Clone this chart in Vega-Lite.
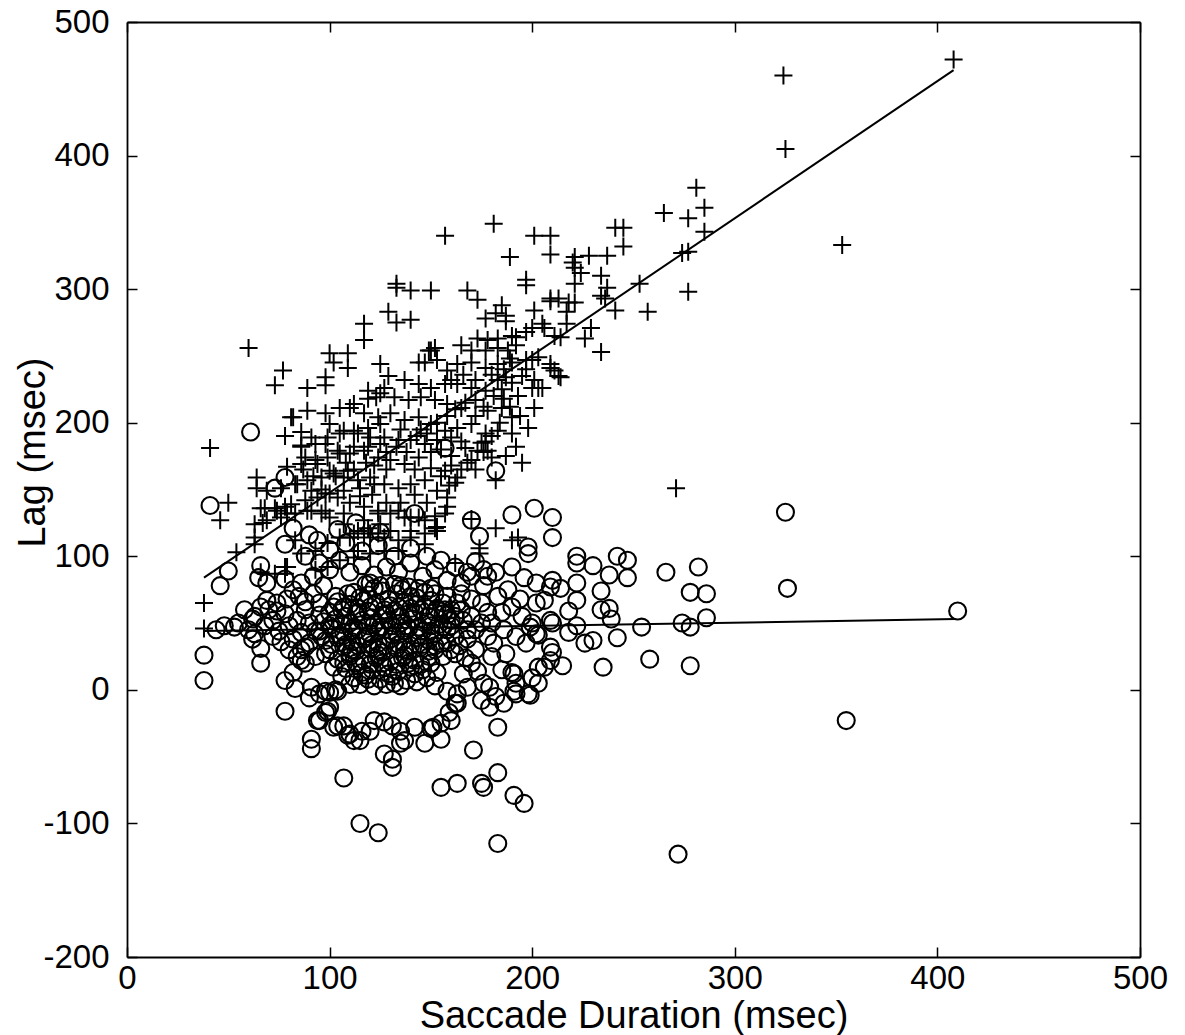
{
  "$schema": "https://vega.github.io/schema/vega-lite/v6.json",
  "width": 1013,
  "height": 935,
  "autosize": "none",
  "padding": {"left": 127, "top": 22, "right": 45, "bottom": 78},
  "background": "white",
  "config": {
    "view": {"stroke": null},
    "axis": {
      "grid": false,
      "domainColor": "black",
      "domainWidth": 1.8,
      "tickColor": "black",
      "tickWidth": 1.5,
      "tickSize": -10,
      "labelFont": "Liberation Sans",
      "labelFontSize": 33,
      "labelColor": "black",
      "labelOverlap": false,
      "labelFlush": false,
      "labelBound": false,
      "labelExpr": "'' + datum.value",
      "titleFont": "Liberation Sans",
      "titleFontSize": 38,
      "titleFontWeight": "normal",
      "titleColor": "black"
    }
  },
  "datasets": {
    "plus": [
      {"dur":408,"lag":472},{"dur":324,"lag":460},{"dur":325,"lag":405},{"dur":281,"lag":376},{"dur":285,"lag":361},{"dur":277,"lag":353},{"dur":285,"lag":343},{"dur":265,"lag":357},{"dur":353,"lag":333},{"dur":274,"lag":327},{"dur":277,"lag":328},{"dur":253,"lag":304},{"dur":277,"lag":298},{"dur":257,"lag":283},{"dur":241,"lag":284},{"dur":181,"lag":349},{"dur":201,"lag":340},{"dur":209,"lag":340},{"dur":189,"lag":324},{"dur":209,"lag":326},{"dur":241,"lag":346},{"dur":245,"lag":346},{"dur":245,"lag":332},{"dur":221,"lag":324},{"dur":228,"lag":325},{"dur":237,"lag":325},{"dur":197,"lag":307},{"dur":197,"lag":303},{"dur":221,"lag":316},{"dur":224,"lag":312},{"dur":234,"lag":310},{"dur":221,"lag":304},{"dur":237,"lag":301},{"dur":234,"lag":295},{"dur":209,"lag":293},{"dur":213,"lag":293},{"dur":218,"lag":290},{"dur":221,"lag":290},{"dur":236,"lag":293},{"dur":185,"lag":288},{"dur":187,"lag":280},{"dur":201,"lag":284},{"dur":217,"lag":283},{"dur":217,"lag":274},{"dur":229,"lag":271},{"dur":206,"lag":271},{"dur":226,"lag":263},{"dur":234,"lag":253},{"dur":211,"lag":265},{"dur":214,"lag":264},{"dur":190,"lag":265},{"dur":192,"lag":264},{"dur":197,"lag":247},{"dur":200,"lag":247},{"dur":189,"lag":248},{"dur":209,"lag":241},{"dur":213,"lag":235},{"dur":201,"lag":232},{"dur":200,"lag":226},{"dur":203,"lag":226},{"dur":205,"lag":226},{"dur":193,"lag":220},{"dur":201,"lag":211},{"dur":190,"lag":204},{"dur":190,"lag":192},{"dur":198,"lag":196},{"dur":186,"lag":218},{"dur":177,"lag":192},{"dur":178,"lag":179},{"dur":182,"lag":157},{"dur":271,"lag":151},{"dur":157,"lag":340},{"dur":220,"lag":320},{"dur":133,"lag":304},{"dur":133,"lag":301},{"dur":140,"lag":299},{"dur":150,"lag":299},{"dur":168,"lag":299},{"dur":173,"lag":292},{"dur":129,"lag":283},{"dur":133,"lag":275},{"dur":140,"lag":277},{"dur":117,"lag":274},{"dur":117,"lag":262},{"dur":60,"lag":256},{"dur":100,"lag":252},{"dur":109,"lag":252},{"dur":109,"lag":241},{"dur":102,"lag":245},{"dur":125,"lag":244},{"dur":129,"lag":235},{"dur":149,"lag":254},{"dur":152,"lag":256},{"dur":144,"lag":245},{"dur":77,"lag":239},{"dur":73,"lag":228},{"dur":98,"lag":234},{"dur":98,"lag":228},{"dur":89,"lag":226},{"dur":211,"lag":239},{"dur":214,"lag":234},{"dur":82,"lag":204},{"dur":89,"lag":209},{"dur":98,"lag":207},{"dur":41,"lag":181},{"dur":64,"lag":159},{"dur":64,"lag":151},{"dur":50,"lag":140},{"dur":46,"lag":127},{"dur":159,"lag":153},{"dur":209,"lag":291},{"dur":176,"lag":178},{"dur":162,"lag":155},{"dur":158,"lag":144},{"dur":158,"lag":137},{"dur":152,"lag":130},{"dur":152,"lag":121},{"dur":182,"lag":121},{"dur":193,"lag":114},{"dur":190,"lag":112},{"dur":170,"lag":128},{"dur":81,"lag":204},{"dur":78,"lag":190},{"dur":86,"lag":193},{"dur":86,"lag":183},{"dur":54,"lag":103},{"dur":63,"lag":114},{"dur":63,"lag":109},{"dur":38,"lag":65},{"dur":38,"lag":46},{"dur":67,"lag":125},{"dur":66,"lag":88},{"dur":78,"lag":87},{"dur":73,"lag":136},{"dur":78,"lag":137},
      {"dur":177,"lag":278},{"dur":182,"lag":282},{"dur":187,"lag":276},{"dur":173,"lag":263},{"dur":178,"lag":262},{"dur":183,"lag":263},{"dur":192,"lag":258},{"dur":197,"lag":268},{"dur":200,"lag":271},{"dur":205,"lag":274},{"dur":165,"lag":258},{"dur":170,"lag":254},{"dur":177,"lag":254},{"dur":183,"lag":256},{"dur":188,"lag":254},{"dur":150,"lag":254},{"dur":153,"lag":247},{"dur":147,"lag":245},{"dur":158,"lag":239},{"dur":163,"lag":244},{"dur":170,"lag":245},{"dur":177,"lag":241},{"dur":183,"lag":244},{"dur":190,"lag":245},{"dur":197,"lag":240},{"dur":203,"lag":249},{"dur":209,"lag":244},{"dur":137,"lag":232},{"dur":144,"lag":229},{"dur":150,"lag":226},{"dur":157,"lag":229},{"dur":163,"lag":229},{"dur":170,"lag":226},{"dur":177,"lag":224},{"dur":183,"lag":232},{"dur":187,"lag":234},{"dur":119,"lag":224},{"dur":125,"lag":222},{"dur":132,"lag":219},{"dur":139,"lag":217},{"dur":145,"lag":219},{"dur":152,"lag":217},{"dur":158,"lag":214},{"dur":165,"lag":211},{"dur":172,"lag":217},{"dur":178,"lag":209},{"dur":185,"lag":211},{"dur":110,"lag":211},{"dur":117,"lag":207},{"dur":124,"lag":204},{"dur":130,"lag":207},{"dur":137,"lag":202},{"dur":144,"lag":204},{"dur":150,"lag":199},{"dur":157,"lag":194},{"dur":163,"lag":196},{"dur":170,"lag":199},{"dur":177,"lag":186},{"dur":183,"lag":194},{"dur":100,"lag":199},{"dur":107,"lag":194},{"dur":114,"lag":192},{"dur":120,"lag":189},{"dur":127,"lag":189},{"dur":134,"lag":187},{"dur":140,"lag":187},{"dur":147,"lag":184},{"dur":153,"lag":187},{"dur":160,"lag":189},{"dur":167,"lag":181},{"dur":173,"lag":179},{"dur":180,"lag":174},{"dur":91,"lag":189},{"dur":98,"lag":184},{"dur":104,"lag":179},{"dur":110,"lag":177},{"dur":117,"lag":179},{"dur":124,"lag":174},{"dur":130,"lag":172},{"dur":137,"lag":169},{"dur":144,"lag":174},{"dur":150,"lag":166},{"dur":157,"lag":164},{"dur":163,"lag":159},{"dur":88,"lag":174},{"dur":94,"lag":169},{"dur":100,"lag":164},{"dur":107,"lag":159},{"dur":114,"lag":157},{"dur":120,"lag":159},{"dur":127,"lag":154},{"dur":134,"lag":151},{"dur":140,"lag":154},{"dur":147,"lag":157},{"dur":153,"lag":149},{"dur":84,"lag":154},{"dur":91,"lag":149},{"dur":98,"lag":147},{"dur":104,"lag":144},{"dur":110,"lag":140},{"dur":117,"lag":137},{"dur":124,"lag":134},{"dur":130,"lag":132},{"dur":137,"lag":129},{"dur":144,"lag":129},{"dur":100,"lag":129},{"dur":107,"lag":124},{"dur":114,"lag":119},{"dur":120,"lag":117},{"dur":127,"lag":114},{"dur":134,"lag":112},{"dur":140,"lag":114},{"dur":147,"lag":109},
      {"dur":105,"lag":211},{"dur":112,"lag":214},{"dur":119,"lag":218},{"dur":123,"lag":219},{"dur":127,"lag":226},{"dur":86,"lag":182},{"dur":93,"lag":184},{"dur":99,"lag":189},{"dur":105,"lag":192},{"dur":112,"lag":194},{"dur":119,"lag":196},{"dur":125,"lag":199},{"dur":79,"lag":167},{"dur":86,"lag":169},{"dur":93,"lag":172},{"dur":99,"lag":174},{"dur":105,"lag":177},{"dur":112,"lag":182},{"dur":119,"lag":182},{"dur":125,"lag":184},{"dur":69,"lag":149},{"dur":76,"lag":151},{"dur":83,"lag":154},{"dur":89,"lag":157},{"dur":96,"lag":159},{"dur":102,"lag":162},{"dur":109,"lag":164},{"dur":68,"lag":136},{"dur":74,"lag":134},{"dur":81,"lag":139},{"dur":88,"lag":142},{"dur":94,"lag":144},{"dur":100,"lag":147},{"dur":107,"lag":149},{"dur":115,"lag":151},{"dur":122,"lag":154},{"dur":63,"lag":124},{"dur":69,"lag":127},{"dur":76,"lag":129},{"dur":83,"lag":132},{"dur":89,"lag":134},{"dur":96,"lag":132},{"dur":83,"lag":112},{"dur":86,"lag":102},{"dur":93,"lag":104},{"dur":99,"lag":110},{"dur":105,"lag":114},{"dur":112,"lag":117},{"dur":119,"lag":121},{"dur":125,"lag":124},{"dur":73,"lag":87},{"dur":79,"lag":92},{"dur":93,"lag":90},{"dur":99,"lag":92},{"dur":105,"lag":97},{"dur":112,"lag":99},
      {"dur":66,"lag":136},{"dur":79,"lag":132},{"dur":91,"lag":134},{"dur":98,"lag":134},{"dur":107,"lag":132},{"dur":117,"lag":127},{"dur":124,"lag":132},{"dur":134,"lag":134},{"dur":140,"lag":129},{"dur":147,"lag":127},{"dur":153,"lag":122},{"dur":157,"lag":132},{"dur":110,"lag":114},{"dur":117,"lag":114},{"dur":124,"lag":117},{"dur":130,"lag":119},{"dur":140,"lag":119},{"dur":147,"lag":117},{"dur":153,"lag":119},{"dur":114,"lag":104},{"dur":120,"lag":102},{"dur":127,"lag":104},{"dur":134,"lag":104},{"dur":162,"lag":95},{"dur":174,"lag":106},{"dur":174,"lag":102},{"dur":78,"lag":92},
      {"dur":155,"lag":180},{"dur":160,"lag":175},{"dur":165,"lag":186},{"dur":168,"lag":170},{"dur":172,"lag":165},{"dur":145,"lag":195},{"dur":135,"lag":195},{"dur":128,"lag":178},{"dur":142,"lag":165},{"dur":150,"lag":178},{"dur":160,"lag":232},{"dur":166,"lag":236},{"dur":172,"lag":232},{"dur":180,"lag":236},{"dur":186,"lag":240},{"dur":187,"lag":175},{"dur":192,"lag":182},{"dur":195,"lag":170},
      {"dur":122,"lag":168},{"dur":128,"lag":165},{"dur":133,"lag":182},{"dur":138,"lag":178},{"dur":143,"lag":190},{"dur":148,"lag":192},{"dur":153,"lag":200},{"dur":158,"lag":205},{"dur":162,"lag":210},{"dur":167,"lag":215},{"dur":172,"lag":205},{"dur":176,"lag":212},{"dur":181,"lag":220},{"dur":185,"lag":225},{"dur":190,"lag":230},{"dur":195,"lag":235},{"dur":118,"lag":170},{"dur":112,"lag":165},{"dur":108,"lag":170},{"dur":103,"lag":160},{"dur":96,"lag":150},{"dur":92,"lag":160},{"dur":87,"lag":165},{"dur":115,"lag":145},{"dur":121,"lag":146},{"dur":128,"lag":140},{"dur":135,"lag":140},{"dur":142,"lag":146},{"dur":148,"lag":140},{"dur":155,"lag":160},{"dur":160,"lag":168},{"dur":165,"lag":165},{"dur":170,"lag":172},{"dur":175,"lag":185},{"dur":180,"lag":190},{"dur":184,"lag":200},{"dur":189,"lag":212},{"dur":194,"lag":205}
    ],
    "ring": [
      {"dur":410,"lag":59},{"dur":325,"lag":133},{"dur":326,"lag":76},{"dur":355,"lag":-23},{"dur":272,"lag":-123},{"dur":183,"lag":-115},{"dur":155,"lag":-73},{"dur":163,"lag":-70},{"dur":175,"lag":-70},{"dur":176,"lag":-73},{"dur":183,"lag":-62},{"dur":191,"lag":-79},{"dur":196,"lag":-85},{"dur":171,"lag":-45},{"dur":183,"lag":-28},{"dur":179,"lag":-13},{"dur":191,"lag":-1},{"dur":199,"lag":-4},{"dur":203,"lag":5},{"dur":191,"lag":12},{"dur":210,"lag":28},{"dur":215,"lag":18},{"dur":206,"lag":17},{"dur":235,"lag":17},{"dur":258,"lag":23},{"dur":278,"lag":18},{"dur":242,"lag":39},{"dur":226,"lag":35},{"dur":230,"lag":37},{"dur":254,"lag":47},{"dur":274,"lag":50},{"dur":278,"lag":47},{"dur":286,"lag":54},{"dur":278,"lag":73},{"dur":286,"lag":72},{"dur":266,"lag":88},{"dur":282,"lag":92},{"dur":242,"lag":100},{"dur":247,"lag":97},{"dur":247,"lag":84},{"dur":238,"lag":86},{"dur":234,"lag":74},{"dur":234,"lag":60},{"dur":238,"lag":61},{"dur":239,"lag":53},{"dur":230,"lag":93},{"dur":222,"lag":100},{"dur":222,"lag":95},{"dur":222,"lag":80},{"dur":222,"lag":67},{"dur":218,"lag":59},{"dur":201,"lag":136},{"dur":210,"lag":129},{"dur":210,"lag":114},{"dur":190,"lag":131},{"dur":198,"lag":107},{"dur":198,"lag":102},{"dur":174,"lag":115},{"dur":170,"lag":127},{"dur":142,"lag":132},{"dur":210,"lag":82},{"dur":214,"lag":76},{"dur":202,"lag":80},{"dur":210,"lag":50},{"dur":199,"lag":47},{"dur":202,"lag":42},{"dur":218,"lag":43},{"dur":222,"lag":48},
      {"dur":41,"lag":138},{"dur":50,"lag":89},{"dur":46,"lag":78},{"dur":38,"lag":26},{"dur":38,"lag":7},{"dur":53,"lag":47},{"dur":62,"lag":53},{"dur":63,"lag":42},{"dur":66,"lag":31},{"dur":66,"lag":20},{"dur":69,"lag":67},{"dur":74,"lag":59},{"dur":65,"lag":84},{"dur":69,"lag":80},{"dur":66,"lag":93},{"dur":78,"lag":83},{"dur":78,"lag":-16},{"dur":91,"lag":-37},{"dur":91,"lag":-44},{"dur":107,"lag":-66},{"dur":127,"lag":-48},{"dur":131,"lag":-52},{"dur":131,"lag":-58},{"dur":82,"lag":13},{"dur":78,"lag":7},{"dur":83,"lag":1},{"dur":94,"lag":-23},{"dur":99,"lag":-16},{"dur":104,"lag":-27},{"dur":112,"lag":-38},{"dur":115,"lag":-38},{"dur":110,"lag":-33},{"dur":122,"lag":-23},{"dur":120,"lag":-31},{"dur":135,"lag":-31},{"dur":137,"lag":-38},{"dur":135,"lag":-40},{"dur":147,"lag":-40},{"dur":155,"lag":-37},{"dur":151,"lag":-28},{"dur":160,"lag":-23},{"dur":163,"lag":-10},{"dur":115,"lag":-100},{"dur":124,"lag":-107},{"dur":61,"lag":193},{"dur":78,"lag":159},{"dur":73,"lag":151},{"dur":82,"lag":121},{"dur":90,"lag":116},{"dur":78,"lag":109},{"dur":125,"lag":118},{"dur":182,"lag":164},{"dur":157,"lag":181},
      {"dur":90,"lag":-6},{"dur":95,"lag":-3},{"dur":100,"lag":-2},{"dur":103,"lag":0},{"dur":95,"lag":-23},{"dur":102,"lag":-28},{"dur":107,"lag":-27},{"dur":109,"lag":-34},{"dur":116,"lag":-31},{"dur":127,"lag":-24},{"dur":131,"lag":-27},{"dur":142,"lag":-28},{"dur":150,"lag":-29},{"dur":155,"lag":-25},{"dur":159,"lag":-17},
      {"dur":202,"lag":65},{"dur":206,"lag":67},{"dur":209,"lag":77},{"dur":200,"lag":50},{"dur":203,"lag":41},{"dur":209,"lag":52},{"dur":187,"lag":27},{"dur":190,"lag":13},{"dur":192,"lag":5},{"dur":198,"lag":-3},{"dur":192,"lag":-3},{"dur":200,"lag":9},{"dur":203,"lag":17},{"dur":209,"lag":22},{"dur":209,"lag":32},{"dur":179,"lag":2},{"dur":176,"lag":5},{"dur":162,"lag":-10},{"dur":158,"lag":-1},{"dur":163,"lag":-3},{"dur":173,"lag":14},{"dur":170,"lag":20},{"dur":167,"lag":24},{"dur":162,"lag":27},{"dur":91,"lag":2},{"dur":98,"lag":-1},{"dur":104,"lag":-1},{"dur":100,"lag":-13},{"dur":98,"lag":-17},{"dur":88,"lag":32},{"dur":86,"lag":22},
      {"dur":165,"lag":60},{"dur":170,"lag":55},{"dur":175,"lag":65},{"dur":180,"lag":50},{"dur":185,"lag":58},{"dur":190,"lag":62},{"dur":195,"lag":55},{"dur":172,"lag":45},{"dur":178,"lag":40},{"dur":168,"lag":38},{"dur":183,"lag":70},{"dur":176,"lag":78},{"dur":188,"lag":75},{"dur":194,"lag":68},{"dur":165,"lag":72},{"dur":170,"lag":85},{"dur":182,"lag":88},{"dur":190,"lag":92},{"dur":196,"lag":84},{"dur":160,"lag":48},{"dur":157,"lag":60},{"dur":162,"lag":40},{"dur":186,"lag":45},{"dur":192,"lag":40},{"dur":197,"lag":35},{"dur":172,"lag":30},{"dur":180,"lag":25},{"dur":185,"lag":15},{"dur":176,"lag":90},{"dur":181,"lag":35},{"dur":166,"lag":12},{"dur":182,"lag":-5},{"dur":175,"lag":-8},{"dur":168,"lag":2},{"dur":186,"lag":-10},
      {"dur":55,"lag":50},{"dur":60,"lag":45},{"dur":63,"lag":55},{"dur":68,"lag":48},{"dur":72,"lag":52},{"dur":75,"lag":44},{"dur":78,"lag":57},{"dur":80,"lag":48},{"dur":84,"lag":52},{"dur":86,"lag":43},{"dur":88,"lag":60},{"dur":90,"lag":50},{"dur":93,"lag":44},{"dur":95,"lag":56},{"dur":72,"lag":40},{"dur":76,"lag":36},{"dur":82,"lag":38},{"dur":86,"lag":30},{"dur":90,"lag":35},{"dur":93,"lag":25},{"dur":88,"lag":20},{"dur":84,"lag":25},{"dur":80,"lag":30},{"dur":70,"lag":60},{"dur":74,"lag":65},{"dur":79,"lag":68},{"dur":85,"lag":70},{"dur":88,"lag":66},{"dur":92,"lag":72},{"dur":95,"lag":65},{"dur":97,"lag":78},{"dur":92,"lag":85},{"dur":86,"lag":80},{"dur":82,"lag":75},{"dur":62,"lag":38},{"dur":58,"lag":60},{"dur":66,"lag":62},{"dur":48,"lag":48},{"dur":44,"lag":45},
      {"dur":95,"lag":95},{"dur":100,"lag":90},{"dur":105,"lag":97},{"dur":110,"lag":88},{"dur":116,"lag":93},{"dur":122,"lag":86},{"dur":128,"lag":92},{"dur":134,"lag":88},{"dur":140,"lag":95},{"dur":146,"lag":85},{"dur":152,"lag":90},{"dur":158,"lag":82},{"dur":100,"lag":105},{"dur":108,"lag":110},{"dur":116,"lag":104},{"dur":124,"lag":108},{"dur":132,"lag":100},{"dur":140,"lag":106},{"dur":148,"lag":100},{"dur":155,"lag":97},{"dur":162,"lag":92},{"dur":168,"lag":88},{"dur":172,"lag":96},{"dur":178,"lag":85},{"dur":88,"lag":100},{"dur":94,"lag":112},{"dur":104,"lag":120},{"dur":113,"lag":125},{"dur":120,"lag":80},{"dur":135,"lag":78},{"dur":150,"lag":76},{"dur":165,"lag":80},
      {"dur":112,"lag":73},{"dur":119,"lag":71},{"dur":126,"lag":74},{"dur":133,"lag":72},{"dur":140,"lag":70},{"dur":147,"lag":73},
      {"dur":104,"lag":66},{"dur":110,"lag":64},{"dur":117,"lag":67},{"dur":123,"lag":65},{"dur":130,"lag":63},{"dur":137,"lag":66},{"dur":143,"lag":64},{"dur":150,"lag":67},{"dur":156,"lag":65},
      {"dur":100,"lag":58},{"dur":106,"lag":60},{"dur":113,"lag":57},{"dur":119,"lag":59},{"dur":126,"lag":56},{"dur":132,"lag":59},{"dur":139,"lag":57},{"dur":145,"lag":60},{"dur":152,"lag":58},{"dur":158,"lag":56},
      {"dur":97,"lag":51},{"dur":103,"lag":53},{"dur":110,"lag":50},{"dur":116,"lag":52},{"dur":122,"lag":49},{"dur":129,"lag":52},{"dur":135,"lag":50},{"dur":141,"lag":53},{"dur":148,"lag":51},{"dur":154,"lag":49},{"dur":160,"lag":52},
      {"dur":95,"lag":44},{"dur":101,"lag":46},{"dur":107,"lag":43},{"dur":114,"lag":45},{"dur":120,"lag":42},{"dur":127,"lag":45},{"dur":133,"lag":43},{"dur":139,"lag":46},{"dur":146,"lag":44},{"dur":152,"lag":42},{"dur":158,"lag":45},
      {"dur":98,"lag":37},{"dur":104,"lag":39},{"dur":111,"lag":36},{"dur":117,"lag":38},{"dur":124,"lag":35},{"dur":130,"lag":38},{"dur":136,"lag":36},{"dur":143,"lag":39},{"dur":149,"lag":37},{"dur":155,"lag":35},
      {"dur":100,"lag":30},{"dur":107,"lag":32},{"dur":113,"lag":29},{"dur":120,"lag":31},{"dur":126,"lag":28},{"dur":133,"lag":31},{"dur":139,"lag":29},{"dur":145,"lag":32},{"dur":152,"lag":30},
      {"dur":104,"lag":23},{"dur":110,"lag":25},{"dur":117,"lag":22},{"dur":123,"lag":24},{"dur":130,"lag":21},{"dur":136,"lag":24},{"dur":142,"lag":22},{"dur":149,"lag":25},
      {"dur":108,"lag":16},{"dur":114,"lag":18},{"dur":121,"lag":15},{"dur":127,"lag":17},{"dur":134,"lag":14},{"dur":140,"lag":17},{"dur":146,"lag":15},
      {"dur":112,"lag":9},{"dur":118,"lag":11},{"dur":125,"lag":8},{"dur":131,"lag":10},{"dur":138,"lag":7},
      {"dur":115,"lag":69},{"dur":129,"lag":68},{"dur":143,"lag":69},{"dur":108,"lag":55},{"dur":121,"lag":54},{"dur":135,"lag":55},{"dur":149,"lag":55},{"dur":105,"lag":41},{"dur":118,"lag":40},{"dur":131,"lag":41},{"dur":144,"lag":41},{"dur":110,"lag":27},{"dur":124,"lag":26},{"dur":137,"lag":26},{"dur":116,"lag":13},{"dur":129,"lag":12},{"dur":142,"lag":12},
      {"dur":107,"lag":62},{"dur":114,"lag":61},{"dur":120,"lag":62},{"dur":127,"lag":60},{"dur":134,"lag":62},{"dur":140,"lag":61},{"dur":147,"lag":62},{"dur":153,"lag":61},
      {"dur":100,"lag":48},{"dur":106,"lag":49},{"dur":112,"lag":47},{"dur":119,"lag":48},{"dur":125,"lag":47},{"dur":131,"lag":48},{"dur":138,"lag":48},{"dur":144,"lag":47},{"dur":150,"lag":48},{"dur":156,"lag":47},
      {"dur":101,"lag":34},{"dur":108,"lag":34},{"dur":114,"lag":33},{"dur":121,"lag":34},{"dur":127,"lag":33},{"dur":134,"lag":34},{"dur":140,"lag":33},{"dur":146,"lag":34},{"dur":152,"lag":33},
      {"dur":107,"lag":20},{"dur":113,"lag":20},{"dur":120,"lag":19},{"dur":126,"lag":20},{"dur":133,"lag":19},{"dur":139,"lag":20},{"dur":145,"lag":19},
      {"dur":115,"lag":4},{"dur":122,"lag":3},{"dur":128,"lag":4},{"dur":135,"lag":3},
      {"dur":118,"lag":79},{"dur":125,"lag":78},{"dur":132,"lag":79},{"dur":139,"lag":77},
      {"dur":163,"lag":65},{"dur":166,"lag":52},{"dur":168,"lag":45},{"dur":164,"lag":33},{"dur":170,"lag":68},{"dur":175,"lag":50},{"dur":178,"lag":58},
      {"dur":103,"lag":70},{"dur":109,"lag":72},{"dur":122,"lag":76},{"dur":136,"lag":75},{"dur":144,"lag":76},{"dur":152,"lag":72},{"dur":158,"lag":70},{"dur":102,"lag":62},{"dur":160,"lag":60},{"dur":162,"lag":55},{"dur":96,"lag":40},{"dur":98,"lag":27},{"dur":102,"lag":17},{"dur":106,"lag":10},{"dur":150,"lag":20},{"dur":153,"lag":13},{"dur":156,"lag":25},{"dur":158,"lag":35},{"dur":160,"lag":30},{"dur":111,"lag":44},{"dur":124,"lag":44},{"dur":137,"lag":44},{"dur":150,"lag":44},{"dur":114,"lag":58},{"dur":128,"lag":57},{"dur":142,"lag":58},{"dur":156,"lag":57},{"dur":111,"lag":30},{"dur":124,"lag":30},{"dur":137,"lag":30},{"dur":149,"lag":29},{"dur":119,"lag":8},{"dur":132,"lag":5},{"dur":143,"lag":6},{"dur":148,"lag":9},{"dur":152,"lag":3},{"dur":110,"lag":4}
    ],
    "fits": [
      {"grp":"plus","dur":38,"lag":84},{"grp":"plus","dur":408,"lag":464},
      {"grp":"ring","dur":38,"lag":44},{"grp":"ring","dur":409,"lag":53}
    ]
  },
  "layer": [
    {
      "data": {"name": "plus"},
      "mark": {"type": "point", "shape": "M-1,0H1M0,-1V1", "filled": false, "stroke": "black", "strokeWidth": 2, "size": 324, "opacity": 1},
      "encoding": {
        "x": {"field": "dur", "type": "quantitative", "scale": {"domain": [0, 500], "nice": false, "zero": false},
              "axis": {"orient": "bottom", "values": [0, 100, 200, 300, 400, 500], "title": "Saccade Duration (msec)", "labelPadding": 15, "titlePadding": 2}},
        "y": {"field": "lag", "type": "quantitative", "scale": {"domain": [-200, 500], "nice": false, "zero": false},
              "axis": {"orient": "left", "values": [-200, -100, 0, 100, 200, 300, 400, 500], "title": "Lag (msec)", "labelPadding": 28, "titlePadding": -10, "titleY": 430}}
      }
    },
    {
      "data": {"name": "ring"},
      "mark": {"type": "point", "shape": "circle", "filled": false, "stroke": "black", "strokeWidth": 2.1, "size": 289, "opacity": 1},
      "encoding": {
        "x": {"field": "dur", "type": "quantitative",
              "axis": {"orient": "top", "values": [0, 100, 200, 300, 400, 500], "labels": false, "title": null}},
        "y": {"field": "lag", "type": "quantitative",
              "axis": {"orient": "right", "values": [-200, -100, 0, 100, 200, 300, 400, 500], "labels": false, "title": null}}
      }
    },
    {
      "data": {"name": "fits"},
      "mark": {"type": "line", "color": "black", "strokeWidth": 2},
      "encoding": {
        "x": {"field": "dur", "type": "quantitative", "axis": null},
        "y": {"field": "lag", "type": "quantitative", "axis": null},
        "detail": {"field": "grp"}
      }
    }
  ]
}
